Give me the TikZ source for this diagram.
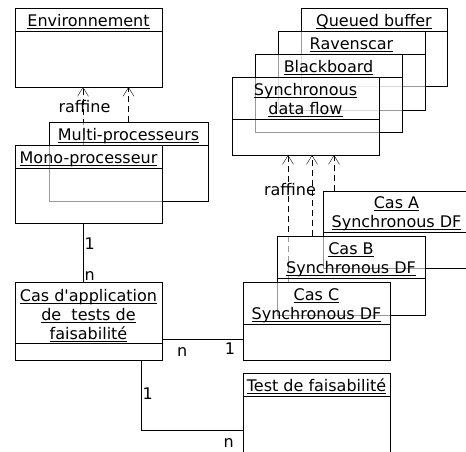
\documentclass[tikz,border=0pt]{standalone}
\usepackage{fontspec}
\setmainfont{DejaVu Sans}
\usetikzlibrary{positioning,arrows.meta,backgrounds}
\newcommand{\clsname}[1]{\setbox0=\hbox{#1}\rlap{\rule[-2.5pt]{\wd0}{.8pt}}\box0}
\tikzset{
  head/.style={draw,fill=white,fill opacity=.6,text opacity=1,anchor=north west,align=center,
    inner xsep=2pt,inner ysep=0pt,outer sep=0pt,minimum width=147pt,text height=18.5pt,text depth=4.5pt},
  two/.style={text height=37pt,text depth=5pt},
  three/.style={text height=57pt,text depth=4pt},
  body/.style={draw,fill=white,fill opacity=.6,inner sep=0pt,outer sep=0pt,minimum width=147pt},
  dep/.style={dash pattern=on 6pt off 4pt,-{Straight Barb[length=9pt,width=11pt]}},
  card/.style={inner sep=0pt,text height=11.5pt,text depth=0pt},
  lbl/.style={inner sep=0pt}
}

\begin{document}
\begin{tikzpicture}[x=1pt,y=-1pt,line width=.9pt,font=\fontsize{16}{19}\selectfont,node distance=0pt]
  \useasboundingbox (0,0) rectangle (466,451);
  \clip (0,0) rectangle (466,451);
  % stack of interaction models
  \node[head,minimum width=146pt] (queuedh) at (301,8) {\clsname{Queued buffer}};
  \node[body,minimum width=146pt,minimum height=55pt,below=of queuedh] (queuedb) {};
  \node[head] (ravenh) at (278,31) {\clsname{Ravenscar}};
  \node[body,minimum height=56pt,below=of ravenh] (ravenb) {};
  \node[head] (blackh) at (255,54) {\clsname{Blackboard}};
  \node[body,minimum height=55pt,below=of blackh] (blackb) {};
  \node[head,two] (synch) at (232,77) {\clsname{Synchronous}\\\clsname{data flow}};
  \node[body,minimum height=36pt,below=of synch] (syncb) {};
  % architecture
  \node[head] (envh) at (15,8) {\clsname{Environnement}};
  \node[body,minimum height=56pt,below=of envh] (envb) {};
  \node[head,minimum width=159pt] (multih) at (49,122) {\clsname{Multi-processeurs}};
  \node[body,minimum width=159pt,minimum height=56pt,below=of multih] (multib) {};
  \node[head] (monoh) at (15,145) {\clsname{Mono-processeur}};
  \node[body,minimum height=55pt,below=of monoh] (monob) {};
  % cas
  \node[head,two,text height=36pt] (casah) at (323,191) {\clsname{Cas A}\\\clsname{Synchronous DF}};
  \node[body,minimum height=36pt,below=of casah] (casab) {};
  \node[head,two,minimum width=148pt] (casbh) at (277,236) {\clsname{Cas B}\\\clsname{Synchronous DF}};
  \node[body,minimum width=148pt,minimum height=37pt,below=of casbh] (casbb) {};
  \node[head,two] (casch) at (243,282) {\clsname{Cas C}\\\clsname{Synchronous DF}};
  \node[body,minimum height=36pt,below=of casch] (cascb) {};
  \node[head,three] (apph) at (15,282) {\clsname{Cas d\textquotesingle application}\\\clsname{de\ \ tests de}\\\clsname{faisabilité}};
  \node[body,minimum height=17pt,below=of apph] (appb) {};
  \node[head] (testh) at (243,373) {\clsname{Test de faisabilité}};
  \node[body,minimum height=60pt,below=of testh] (testb) {};

  \begin{scope}[on background layer]
    \draw[dep] ([xshift=-5.5pt]monoh.north) -- node[lbl,pos=.66,xshift=1.5pt]{raffine} ([xshift=-5.5pt]monoh.north |- envb.south);
    \draw[dep] (multih.north) -- (multih.north |- envb.south);
    \draw ([xshift=-5.5pt]monob.south) -- node[card,pos=.35,right=1.5pt]{1} node[card,pos=.87,right=1.5pt]{n} ([xshift=-5.5pt]apph.north);
    \draw ([yshift=4pt]apph.south east) -- node[card,pos=.25,below=6pt]{n} node[card,pos=.84,below=4pt]{1} ([yshift=4pt]apph.south east -| cascb.west);
    \draw ([xshift=52.5pt]appb.south) |- node[card,pos=.24,right=1.5pt]{1} node[card,pos=.93,below=6pt]{n} ([yshift=-34pt]testh.south west);
    \draw[dep] ([xshift=-28.5pt]casch.north) -- node[lbl,pos=.73,xshift=2pt]{raffine} ([xshift=-28.5pt]casch.north |- syncb.south);
    \draw[dep] ([xshift=-39pt]casbh.north) -- ([xshift=-39pt]casbh.north |- syncb.south);
    \draw[dep] ([xshift=-62.5pt]casah.north) -- ([xshift=-62.5pt]casah.north |- syncb.south);
  \end{scope}
\end{tikzpicture}
\end{document}
